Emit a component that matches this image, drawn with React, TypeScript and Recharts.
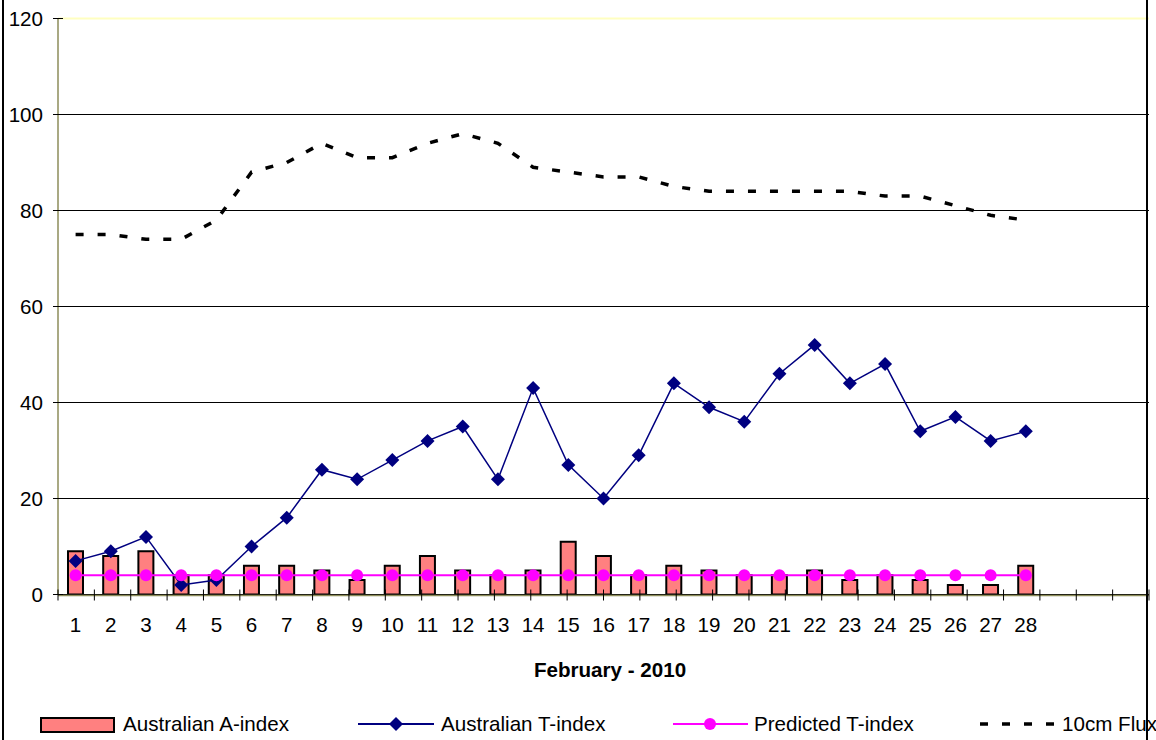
import React from 'react'
import {
  ComposedChart,
  Bar,
  Line,
  XAxis,
  YAxis,
  CartesianGrid,
  ReferenceLine,
} from 'recharts'

// Daily values, February 2010 (days 29-31 are empty slots on the axis)
const days = [1, 2, 3, 4, 5, 6, 7, 8, 9, 10, 11, 12, 13, 14, 15, 16, 17, 18, 19, 20, 21, 22, 23, 24, 25, 26, 27, 28, 29, 30, 31]
const dayLabels = ['1', '2', '3', '4', '5', '6', '7', '8', '9', '10', '11', '12', '13', '14', '15', '16', '17', '18', '19', '20', '21', '22', '23', '24', '25', '26', '27', '28', '', '', '']
const aIndex = [9, 8, 9, 4, 4, 6, 6, 5, 3, 6, 8, 5, 4, 5, 11, 8, 4, 6, 5, 4, 4, 5, 3, 4, 3, 2, 2, 6, null, null, null]
const tIndex = [7, 9, 12, 2, 3, 10, 16, 26, 24, 28, 32, 35, 24, 43, 27, 20, 29, 44, 39, 36, 46, 52, 44, 48, 34, 37, 32, 34, null, null, null]
const predicted = [4, 4, 4, 4, 4, 4, 4, 4, 4, 4, 4, 4, 4, 4, 4, 4, 4, 4, 4, 4, 4, 4, 4, 4, 4, 4, 4, 4, null, null, null]
const flux = [75, 75, 74, 74, 78, 88, 90, 94, 91, 91, 94, 96, 94, 89, 88, 87, 87, 85, 84, 84, 84, 84, 84, 83, 83, 81, 79, 78, null, null, null]
const yTicks = [0, 20, 40, 60, 80, 100, 120]
const dayBounds = [0, 1, 2, 3, 4, 5, 6, 7, 8, 9, 10, 11, 12, 13, 14, 15, 16, 17, 18, 19, 20, 21, 22, 23, 24, 25, 26, 27, 28, 29, 30, 31]

const data = days.map((d, i) => ({
  day: d,
  a: aIndex[i],
  t: tIndex[i],
  p: predicted[i],
  flux: flux[i],
}))

const FONT = '"Liberation Sans", Arial, sans-serif'
const FS = 20.6
const NAVY = '#000080'
const MAGENTA = '#ff00ff'
const SALMON = '#ff8080'
const AXIS = '#8c8c5a'

const Diamond = (props: any) => {
  const { cx, cy } = props
  if (cx == null || cy == null) return <g />
  return (
    <polygon
      points={`${cx},${cy - 7} ${cx + 7},${cy} ${cx},${cy + 7} ${cx - 7},${cy}`}
      fill={NAVY}
    />
  )
}

const Dot = (props: any) => {
  const { cx, cy } = props
  if (cx == null || cy == null) return <g />
  return <circle cx={cx} cy={cy} r={6} fill={MAGENTA} />
}

// tick mark crossing the x axis at a day boundary
const BoundTick = (props: any) => {
  const { x, y } = props
  return <line x1={x} y1={y - 5} x2={x} y2={y + 6} stroke="#000" strokeWidth={1} />
}

// y tick: mark crossing the axis plus right-aligned label
const YTick = (props: any) => {
  const { x, y, payload } = props
  return (
    <g>
      <line x1={x - 5} y1={y} x2={x + 5} y2={y} stroke="#000" strokeWidth={1} />
      <text
        x={x - 15}
        y={y}
        dy="0.355em"
        textAnchor="end"
        fill="#000"
        fontSize={FS}
        fontFamily={FONT}
      >
        {payload.value}
      </text>
    </g>
  )
}

function Overlay() {
  const txt = { fontFamily: FONT, fontSize: FS, fill: '#000' }
  return (
    <svg
      width={1156}
      height={740}
      style={{ position: 'absolute', left: 0, top: 0, pointerEvents: 'none' }}
    >
      <line x1={3} y1={0} x2={3} y2={740} stroke="#000" strokeWidth={2} />
      <line x1={1147} y1={0} x2={1147} y2={740} stroke="#000" strokeWidth={2} />

      <text x={610} y={677} textAnchor="middle" {...txt} fontWeight="bold">
        February - 2010
      </text>

      <rect x={41} y={718} width={73} height={14} fill={SALMON} stroke="#000" strokeWidth={2} />
      <text x={123} y={731} {...txt}>Australian A-index</text>

      <line x1={358} y1={724} x2={434} y2={724} stroke={NAVY} strokeWidth={2} />
      <Diamond cx={396} cy={724} />
      <text x={441} y={731} {...txt}>Australian T-index</text>

      <line x1={673} y1={724} x2={748} y2={724} stroke={MAGENTA} strokeWidth={2} />
      <Dot cx={710} cy={724} />
      <text x={754} y={731} {...txt}>Predicted T-index</text>

      <line x1={980} y1={724} x2={1058} y2={724} stroke="#000" strokeWidth={3.5} strokeDasharray="8 14" />
      <text x={1062} y={731} {...txt}>10cm Flux</text>
    </svg>
  )
}

export default function App() {
  return (
    <div style={{ position: 'absolute', left: 0, top: 0, width: 1156, height: 740, background: '#fff' }}>
      <ComposedChart
        width={1156}
        height={740}
        data={data}
        margin={{ top: 18.5, right: 7, left: 0, bottom: 115.5 }}
        barCategoryGap={0}
      >
        <CartesianGrid xAxisId="c" vertical={false} stroke="#000" strokeWidth={1} />
        <XAxis
          xAxisId="a"
          type="number"
          domain={[0, 31]}
          ticks={dayBounds}
          interval={0}
          height={1}
          axisLine={false}
          tickLine={false}
          tickSize={0}
          tickMargin={0}
          tick={<BoundTick />}
        />
        <XAxis
          xAxisId="c"
          dataKey="day"
          height={29}
          interval={0}
          tickSize={0}
          tickMargin={22}
          tickLine={false}
          axisLine={{ stroke: AXIS, strokeWidth: 1.5 }}
          tick={{ fill: '#000', fontSize: FS, fontFamily: FONT }}
          tickFormatter={(_v: any, i: number) => dayLabels[i]}
        />
        <YAxis
          width={58}
          domain={[0, 120]}
          ticks={yTicks}
          interval={0}
          tickSize={0}
          tickMargin={0}
          tickLine={false}
          axisLine={{ stroke: AXIS, strokeWidth: 1.5 }}
          tick={<YTick />}
        />
        <ReferenceLine xAxisId="c" y={120} stroke="#ffffc0" strokeWidth={2} />
        <ReferenceLine xAxisId="a" x={31} stroke="#ffffc0" strokeWidth={2} />
        <Bar
          xAxisId="c"
          dataKey="a"
          barSize={15}
          fill={SALMON}
          stroke="#000"
          strokeWidth={2}
          isAnimationActive={false}
        />
        <Line
          xAxisId="c"
          dataKey="t"
          stroke={NAVY}
          strokeWidth={1.5}
          dot={<Diamond />}
          activeDot={false}
          isAnimationActive={false}
        />
        <Line
          xAxisId="c"
          dataKey="p"
          stroke={MAGENTA}
          strokeWidth={2}
          dot={<Dot />}
          activeDot={false}
          isAnimationActive={false}
        />
        <Line
          xAxisId="c"
          dataKey="flux"
          stroke="#000"
          strokeWidth={3.5}
          strokeDasharray="8 14"
          dot={false}
          activeDot={false}
          isAnimationActive={false}
        />
      </ComposedChart>
      <Overlay />
    </div>
  )
}
